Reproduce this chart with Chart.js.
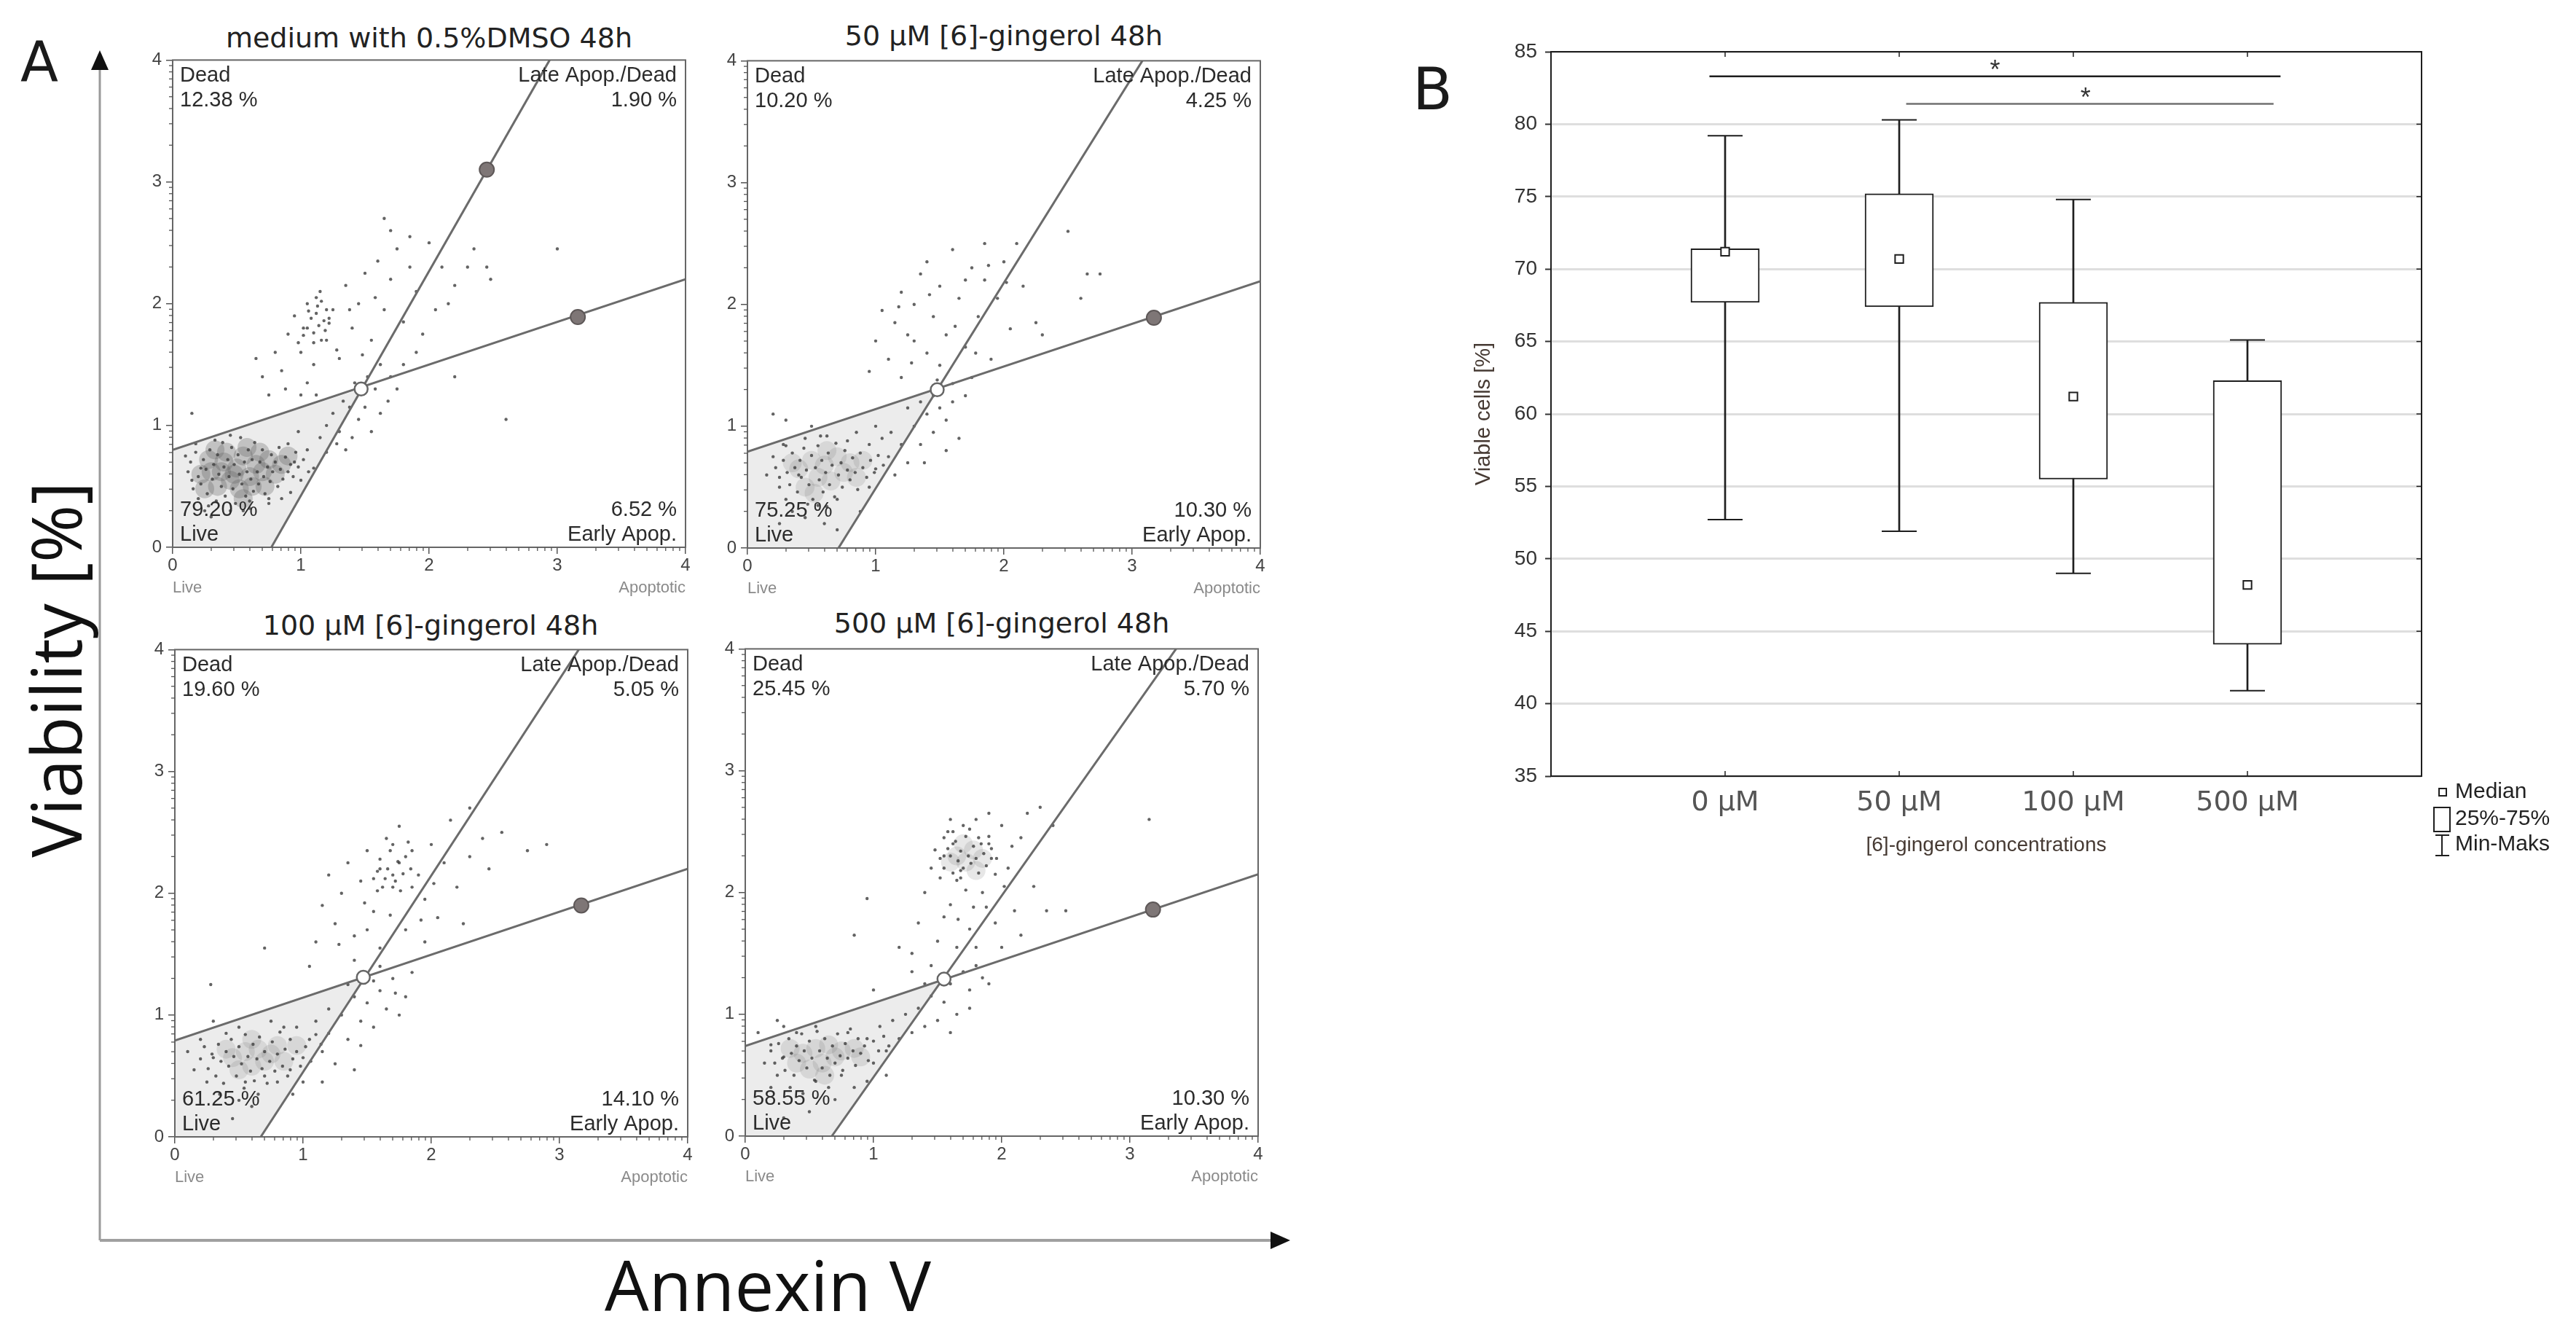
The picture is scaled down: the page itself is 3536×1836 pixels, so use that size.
<!DOCTYPE html>
<html>
<head>
<meta charset="utf-8">
<script src="https://cdn.jsdelivr.net/npm/chart.js@4.4.1/dist/chart.umd.min.js"></script>
<style>
html, body { margin: 0; padding: 0; background: #fff; }
#page { position: relative; width: 3536px; height: 1836px; overflow: hidden; background: #fff; }
canvas { position: absolute; }
.txt { position: absolute; white-space: nowrap; color: #1a1a1a; }
.ptitle { font-family: "DejaVu Sans"; font-size: 38px; line-height: 38px; color: #222; transform: translateX(-50%); }
.big { font-family: "Open Sans"; font-size: 96px; line-height: 96px; color: #111; }
</style>
</head>
<body>
<div id="page">
  <svg style="position:absolute;left:0;top:0" width="3536" height="1836">
    <line x1="137" y1="1702" x2="137" y2="90" stroke="#9a9a9a" stroke-width="3"/>
    <polygon points="137,69 125,96 149,96" fill="#111"/>
    <line x1="137" y1="1702" x2="1748" y2="1702" stroke="#a0a0a0" stroke-width="4"/>
    <polygon points="1771,1702 1744,1690 1744,1714" fill="#111"/>
  </svg>
  <div class="txt" style="left:28px;top:47px;font-family:'DejaVu Sans';font-size:76px;line-height:76px">A</div>
  <div class="txt" style="left:1939px;top:83px;font-family:'DejaVu Sans';font-size:80px;line-height:80px">B</div>
  <div class="txt big" style="left:830px;top:1714px">Annexin V</div>
  <div class="txt big" style="left:75px;top:919px;transform:translate(-50%,-50%) rotate(-90deg)">Viability [%]</div>
  <div class="txt ptitle" style="left:589px;top:33px">medium with 0.5%DMSO 48h</div>
  <div class="txt ptitle" style="left:1378px;top:30px">50 µM [6]-gingerol 48h</div>
  <div class="txt ptitle" style="left:591px;top:839px">100 µM [6]-gingerol 48h</div>
  <div class="txt ptitle" style="left:1375px;top:836px">500 µM [6]-gingerol 48h</div>
  <canvas id="p1" width="774" height="764" style="left:187px;top:62px"></canvas>
  <canvas id="p2" width="774" height="764" style="left:976px;top:63px"></canvas>
  <canvas id="p3" width="774" height="764" style="left:190px;top:871px"></canvas>
  <canvas id="p4" width="774" height="764" style="left:973px;top:870px"></canvas>
  <canvas id="box" width="1526" height="1190" style="left:2010px;top:0px"></canvas>
</div>
<script>
// ---------- panel A: annexin V / viability dot plots ----------
const panelNames = ['DMSO', '50', '100', '500'];
const deadPct = ['12.38 %', '10.20 %', '19.60 %', '25.45 %'];
const latePct = ['1.90 %', '4.25 %', '5.05 %', '5.70 %'];
const livePct = ['79.20 %', '75.25 %', '61.25 %', '58.55 %'];
const earlyPct = ['6.52 %', '10.30 %', '14.10 %', '10.30 %'];

// gate lines: [start, end]
const steepGate = [[[0.77, 0], [2.94, 4]], [[0.71, 0], [3.08, 4]], [[0.67, 0], [3.15, 4]], [[0.675, 0], [3.36, 4]]];
const shallowGate = [[[0, 0.80], [4, 2.20]], [[0, 0.79], [4, 2.19]], [[0, 0.79], [4, 2.20]], [[0, 0.74], [4, 2.15]]];
const gateCross = [[1.47, 1.30], [1.48, 1.30], [1.47, 1.31], [1.55, 1.29]];
const gateHandles = [[[2.45, 3.10], [3.16, 1.89]], [[3.17, 1.89]], [[3.17, 1.90]], [[3.18, 1.86]]];

// dense parts of the clouds (drawn as soft grey haze)
const denseDmso = [[0.30,0.62],[0.40,0.70],[0.45,0.55],[0.50,0.65],[0.55,0.75],[0.60,0.58],[0.65,0.68],[0.70,0.62],
  [0.35,0.50],[0.42,0.78],[0.52,0.48],[0.58,0.82],[0.75,0.72],[0.80,0.60],[0.28,0.72],[0.48,0.60],[0.62,0.50],
  [0.38,0.62],[0.68,0.78],[0.85,0.68],[0.22,0.60],[0.90,0.75],[0.25,0.48],[0.33,0.80],[0.55,0.40],[0.72,0.50]];
const dense50 = [[0.40,0.65],[0.50,0.72],[0.55,0.58],[0.60,0.68],[0.65,0.55],[0.70,0.75],[0.75,0.62],[0.45,0.50],
  [0.35,0.70],[0.80,0.70],[0.62,0.80],[0.52,0.45],[0.85,0.58],[0.90,0.72]];
const dense100 = [[0.45,0.65],[0.55,0.70],[0.60,0.58],[0.65,0.72],[0.70,0.62],[0.50,0.55],[0.75,0.68],[0.80,0.75],
  [0.40,0.72],[0.85,0.62],[0.95,0.75],[0.60,0.80]];
const dense500 = [[0.45,0.68],[0.55,0.72],[0.60,0.60],[0.65,0.75],[0.70,0.65],[0.50,0.55],[0.75,0.70],[0.40,0.60],
  [0.85,0.72],[0.90,0.65],[0.35,0.72],[0.62,0.50],[1.65,2.30],[1.72,2.25],[1.78,2.35],[1.70,2.40],[1.85,2.28],
  [1.60,2.25],[1.80,2.18]];

// single events
const eventsDmso = [[0.10,0.75],[0.15,0.55],[0.18,0.85],[0.20,0.40],[0.22,0.65],[0.25,0.30],[0.90,0.85],[0.95,0.70],
  [1.00,0.55],[1.05,0.80],[1.10,0.65],[0.92,0.45],[0.85,0.40],[0.30,0.25],[0.45,0.30],[0.60,0.32],[0.75,0.40],
  [0.98,0.95],[1.15,0.90],[1.20,1.00],[1.30,0.95],[1.35,0.80],[1.40,0.90],[1.45,1.05],[1.50,1.15],[1.55,0.95],
  [1.62,1.10],[1.68,1.20],[1.25,1.10],[1.33,1.20],[1.42,1.35],[1.58,1.30],[1.70,1.40],[1.75,1.30],[1.80,1.50],
  [1.38,1.15],[1.28,0.85],[1.20,0.78],[2.60,1.05],[0.80,1.60],[0.85,1.45],[0.90,1.75],[0.95,1.90],[1.00,1.60],
  [1.05,2.00],[1.10,1.50],[1.15,2.10],[1.20,1.70],[1.25,1.95],[1.30,1.55],[1.35,2.15],[1.40,1.80],[1.45,2.00],
  [1.50,2.25],[1.55,1.70],[1.60,2.35],[1.65,1.95],[1.70,2.20],[1.75,2.45],[1.80,1.85],[1.85,2.30],[1.90,2.10],
  [1.95,1.75],[2.00,2.50],[2.05,1.95],[2.10,2.30],[2.20,2.15],[2.30,2.30],[2.45,2.30],[2.48,2.20],[1.65,2.70],
  [1.85,2.55],[1.70,2.60],[1.00,1.25],[0.70,1.40],[0.65,1.55],[0.75,1.25],[1.05,1.35],[3.00,2.45],[0.15,1.10],
  [2.20,1.40],[1.02,1.80],[1.22,1.88],[1.12,2.05],[0.98,1.68],[1.28,1.62],[1.48,1.58],[1.62,1.50],[1.90,1.60],
  [2.15,2.00],[1.58,2.05],[1.38,1.95],[0.88,1.30],[1.12,1.25],[1.52,1.40],[2.35,2.45],
  [0.12,0.62],[0.14,0.70],[0.16,0.48],[0.18,0.78],[0.20,0.58],[0.22,0.52],[0.24,0.72],[0.26,0.64],[0.27,0.44],
  [0.29,0.80],[0.31,0.56],[0.32,0.68],[0.34,0.38],[0.35,0.76],[0.36,0.60],[0.38,0.50],[0.39,0.86],[0.40,0.66],
  [0.41,0.42],[0.43,0.72],[0.44,0.58],[0.46,0.82],[0.47,0.48],[0.48,0.68],[0.49,0.36],[0.51,0.76],[0.52,0.60],
  [0.53,0.90],[0.54,0.52],[0.56,0.70],[0.57,0.42],[0.58,0.62],[0.59,0.80],[0.61,0.56],[0.62,0.72],[0.63,0.46],
  [0.64,0.86],[0.66,0.62],[0.67,0.52],[0.68,0.70],[0.70,0.80],[0.71,0.58],[0.72,0.44],[0.74,0.66],[0.76,0.54],
  [0.77,0.76],[0.78,0.62],[0.80,0.70],[0.82,0.50],[0.83,0.82],[0.84,0.64],[0.86,0.56],[0.88,0.74],[0.90,0.62],
  [0.92,0.68],[0.94,0.58],[0.96,0.78],[0.98,0.66],[1.02,0.72],[1.06,0.62],[0.33,0.88],[0.45,0.92],[0.60,0.38],
  [0.75,0.36],[0.28,0.34],[0.55,0.30],
  [1.05,1.80],[1.08,1.88],[1.10,1.76],[1.12,1.92],[1.14,1.82],[1.16,1.70],[1.18,1.86],[1.20,1.95],[1.10,1.68],
  [1.13,1.98],[1.06,1.94],[1.19,1.78],[1.22,1.84],[1.02,1.74],[1.16,2.02]];
const events50 = [[0.15,0.60],[0.20,0.75],[0.25,0.50],[0.28,0.85],[0.30,0.40],[0.35,0.30],[0.45,0.25],[0.55,0.35],
  [0.60,0.20],[0.70,0.40],[0.95,0.85],[1.00,0.65],[1.05,0.90],[1.10,0.75],[1.15,0.60],[1.20,0.85],[1.25,0.70],
  [0.95,0.50],[1.00,1.00],[0.85,0.95],[0.45,0.90],[0.30,1.05],[0.50,1.00],[0.20,1.10],[1.30,1.00],[1.35,0.85],
  [1.40,1.10],[1.45,0.95],[1.50,1.15],[1.55,1.05],[1.60,1.20],[1.65,0.90],[1.70,1.25],[1.60,1.35],[1.45,1.25],
  [1.75,1.40],[1.35,1.20],[1.25,1.15],[1.55,0.80],[1.00,1.70],[1.05,1.95],[1.10,1.55],[1.15,1.85],[1.20,2.10],
  [1.25,1.75],[1.30,2.00],[1.35,2.25],[1.40,1.60],[1.45,1.90],[1.50,2.15],[1.55,1.75],[1.60,2.45],[1.65,2.05],
  [1.70,1.65],[1.75,2.30],[1.80,1.90],[1.85,2.20],[1.90,1.55],[1.95,2.05],[2.00,2.35],[2.05,1.80],[2.10,2.50],
  [2.15,2.15],[2.25,1.85],[1.85,2.50],[1.40,2.35],[1.20,1.40],[0.95,1.45],[2.30,1.75],[2.50,2.60],[2.65,2.25],
  [2.75,2.25],[2.60,2.05],[1.70,2.20],[1.50,1.50],[1.30,1.70],[1.18,1.98],[1.62,1.82],[1.88,2.32],[1.42,2.08],
  [1.78,1.60],[2.02,2.18],[1.28,1.52],[0.40,0.60],[0.62,0.92],[0.78,0.88],[0.88,0.30],[0.25,0.20],[0.70,0.15],
  [1.12,0.95],[1.38,0.70],[1.48,1.38],
  [0.22,0.66],[0.25,0.58],[0.28,0.72],[0.31,0.62],[0.33,0.52],[0.35,0.78],[0.37,0.66],[0.39,0.46],[0.41,0.72],
  [0.42,0.58],[0.44,0.82],[0.46,0.64],[0.48,0.52],[0.50,0.76],[0.51,0.40],[0.53,0.66],[0.55,0.84],[0.56,0.56],
  [0.58,0.72],[0.59,0.46],[0.61,0.62],[0.63,0.78],[0.64,0.52],[0.66,0.68],[0.68,0.42],[0.69,0.86],[0.71,0.60],
  [0.73,0.70],[0.74,0.50],[0.76,0.80],[0.78,0.64],[0.80,0.56],[0.82,0.74],[0.84,0.62],[0.86,0.48],[0.88,0.78],
  [0.90,0.66],[0.93,0.58],[0.96,0.72],[0.99,0.62],[1.02,0.76],[1.06,0.68],[0.47,0.36],[0.62,0.34],[0.30,0.84],
  [0.57,0.92]];
const events100 = [[0.10,0.70],[0.15,0.55],[0.20,0.80],[0.25,0.45],[0.30,0.65],[0.35,0.35],[0.40,0.85],[0.50,0.30],
  [0.55,0.45],[0.65,0.35],[0.70,0.50],[0.80,0.45],[0.90,0.55],[0.95,0.90],[1.00,0.65],[1.05,0.80],[1.10,0.95],
  [1.15,0.70],[1.20,0.85],[1.25,0.60],[1.00,0.45],[0.85,0.90],[0.30,0.95],[0.50,0.90],[0.75,0.95],[0.28,1.25],
  [1.30,1.00],[1.35,0.80],[1.40,1.15],[1.45,0.95],[1.50,1.10],[1.55,0.90],[1.60,1.20],[1.65,1.05],[1.70,1.30],
  [1.75,1.00],[1.80,1.15],[1.45,0.75],[1.35,1.25],[1.85,1.35],[1.60,1.40],[1.20,1.05],[1.10,1.60],[1.15,1.90],
  [1.20,2.15],[1.25,1.75],[1.30,2.00],[1.35,2.25],[1.40,1.65],[1.45,2.10],[1.50,2.35],[1.55,1.85],[1.60,2.20],
  [1.65,2.45],[1.70,2.05],[1.75,2.25],[1.80,1.70],[1.85,2.35],[1.90,2.15],[1.95,1.95],[2.00,2.40],[2.05,1.80],
  [2.10,2.25],[2.15,2.60],[2.20,2.05],[2.25,1.75],[2.30,2.30],[2.40,2.45],[2.45,2.20],[1.75,2.55],[1.60,1.55],
  [1.95,1.60],[1.40,1.45],[1.05,1.40],[0.70,1.55],[2.30,2.70],[2.90,2.40],[2.75,2.35],[2.55,2.50],[1.50,1.70],
  [1.70,2.15],[1.85,2.05],[1.58,2.02],[1.82,2.42],[1.48,1.92],[1.68,1.82],[2.02,2.08],[1.28,1.58],[1.92,1.78],
  [0.60,0.25],[0.45,0.15],[0.92,0.35],[1.15,0.45],[1.40,0.55],[1.55,1.28],[1.72,1.18],
  [0.20,0.64],[0.23,0.74],[0.26,0.56],[0.29,0.68],[0.32,0.50],[0.34,0.76],[0.36,0.62],[0.38,0.44],[0.40,0.70],
  [0.42,0.58],[0.44,0.80],[0.46,0.66],[0.48,0.50],[0.50,0.74],[0.52,0.60],[0.54,0.40],[0.55,0.84],[0.57,0.66],
  [0.59,0.54],[0.61,0.76],[0.62,0.46],[0.64,0.64],[0.66,0.82],[0.68,0.56],[0.70,0.70],[0.72,0.44],[0.74,0.62],
  [0.76,0.78],[0.78,0.54],[0.80,0.68],[0.82,0.86],[0.84,0.58],[0.86,0.72],[0.88,0.50],[0.90,0.80],[0.92,0.64],
  [0.95,0.70],[0.98,0.58],[1.02,0.74],[1.06,0.62],[1.10,0.84],[1.14,0.76],
  [1.55,2.12],[1.60,2.28],[1.62,2.05],[1.66,2.20],[1.68,2.35],[1.72,2.10],[1.74,2.26],[1.78,2.16],[1.80,2.30],
  [1.84,2.20],[1.58,2.18],[1.70,2.40],[1.76,2.02],[1.64,2.12]];
const events500 = [[0.10,0.85],[0.15,0.60],[0.20,0.75],[0.25,0.50],[0.30,0.65],[0.35,0.40],[0.40,0.85],[0.45,0.35],
  [0.55,0.45],[0.65,0.40],[0.75,0.50],[0.80,0.85],[0.95,0.80],[1.00,0.60],[1.05,0.90],[1.10,0.70],[1.15,0.95],
  [1.20,0.80],[1.25,1.00],[1.30,0.85],[0.95,0.45],[0.85,0.40],[0.25,0.95],[0.20,0.40],[0.55,0.90],[0.30,0.15],
  [1.35,1.05],[1.40,0.90],[1.45,1.15],[1.50,0.95],[1.55,1.10],[1.60,1.25],[1.65,1.00],[1.70,1.35],[1.75,1.20],
  [1.80,1.40],[1.85,1.30],[1.60,0.85],[1.75,1.05],[1.90,1.25],[1.40,1.25],[1.30,1.50],[1.35,1.75],[1.40,2.00],
  [1.45,2.20],[1.50,1.60],[1.55,2.45],[1.60,1.90],[1.65,2.10],[1.70,2.55],[1.75,1.70],[1.80,2.60],[1.85,2.00],
  [1.90,2.40],[1.95,1.75],[2.00,2.55],[2.05,2.20],[2.10,1.85],[2.15,2.45],[2.20,2.65],[2.25,2.05],[2.30,2.70],
  [2.40,2.55],[1.55,2.30],[1.60,2.60],[1.90,2.65],[1.95,2.15],[1.45,1.40],[1.30,1.35],[1.00,1.20],[1.20,1.55],
  [0.95,1.95],[0.85,1.65],[2.50,1.85],[2.35,1.85],[3.15,2.60],[2.00,1.55],[1.80,1.55],[2.15,1.65],[1.65,1.55],
  [1.55,1.80],[1.52,2.12],[1.62,2.40],[1.68,2.18],[1.82,2.45],[1.92,2.28],[1.58,2.50],[1.72,2.02],[2.08,2.38],
  [1.48,2.35],[1.88,1.88],[2.02,2.05],[1.66,1.78],[1.78,1.88],[0.70,0.30],[0.50,0.20],[1.10,0.50],[0.30,0.90],
  [0.20,0.70],[0.23,0.60],[0.26,0.76],[0.29,0.64],[0.31,0.54],[0.34,0.80],[0.36,0.68],[0.38,0.50],[0.40,0.74],
  [0.42,0.62],[0.44,0.84],[0.46,0.70],[0.48,0.56],[0.50,0.78],[0.52,0.64],[0.54,0.46],[0.56,0.86],[0.58,0.70],
  [0.60,0.56],[0.62,0.80],[0.64,0.64],[0.66,0.50],[0.68,0.74],[0.70,0.60],[0.72,0.84],[0.74,0.66],[0.76,0.54],
  [0.78,0.76],[0.80,0.64],[0.82,0.88],[0.84,0.70],[0.86,0.58],[0.88,0.80],[0.90,0.68],[0.93,0.74],[0.96,0.62],
  [1.00,0.78],[1.04,0.70],[1.08,0.82],[1.12,0.74],
  [1.52,2.28],[1.55,2.20],[1.58,2.36],[1.60,2.30],[1.62,2.16],[1.64,2.42],[1.66,2.26],[1.68,2.34],[1.70,2.20],
  [1.72,2.46],[1.74,2.30],[1.76,2.24],[1.78,2.38],[1.80,2.28],[1.82,2.16],[1.84,2.40],[1.86,2.32],[1.88,2.22],
  [1.92,2.36],[1.96,2.28],[1.62,2.50],[1.90,2.46],[1.68,2.12],[1.75,2.52]];

const denseSets = [denseDmso, dense50, dense100, dense500];
const eventSets = [eventsDmso, events50, events100, events500];
const denseAlpha = [0.3, 0.14, 0.14, 0.15];

const toXY = arr => arr.map(p => ({ x: p[0], y: p[1] }));

const flowDecor = {
  id: 'flowDecor',
  beforeDatasetsDraw(chart, args, opts) {
    const { ctx, scales: { x, y } } = chart;
    ctx.save();
    ctx.beginPath();
    opts.shade.forEach((p, i) => {
      const px = x.getPixelForValue(p[0]), py = y.getPixelForValue(p[1]);
      if (i === 0) ctx.moveTo(px, py); else ctx.lineTo(px, py);
    });
    ctx.closePath();
    ctx.fillStyle = '#ececec';
    ctx.fill();
    ctx.restore();
  },
  afterDraw(chart, args, opts) {
    const { ctx, chartArea: a, scales: { x, y } } = chart;
    ctx.save();
    ctx.strokeStyle = '#666';
    ctx.lineWidth = 2;
    ctx.strokeRect(a.left, a.top, a.right - a.left, a.bottom - a.top);
    // log-like minor ticks
    ctx.lineWidth = 1.3;
    ctx.strokeStyle = '#555';
    for (let d = 0; d < 4; d++) {
      for (let k = 2; k <= 9; k++) {
        const v = d + Math.log10(k);
        const px = x.getPixelForValue(v);
        ctx.beginPath(); ctx.moveTo(px, a.bottom); ctx.lineTo(px, a.bottom + 5); ctx.stroke();
        const py = y.getPixelForValue(v);
        ctx.beginPath(); ctx.moveTo(a.left, py); ctx.lineTo(a.left - 5, py); ctx.stroke();
      }
    }
    ctx.font = '29px "Liberation Sans"';
    ctx.fillStyle = '#2b2b2b';
    ctx.textAlign = 'left';
    ctx.fillText('Dead', a.left + 10, a.top + 30);
    ctx.fillText(opts.dead, a.left + 10, a.top + 64);
    ctx.fillText(opts.live, a.left + 10, a.bottom - 43);
    ctx.fillText('Live', a.left + 10, a.bottom - 9);
    ctx.textAlign = 'right';
    ctx.fillText('Late Apop./Dead', a.right - 12, a.top + 30);
    ctx.fillText(opts.late, a.right - 12, a.top + 64);
    ctx.fillText(opts.early, a.right - 12, a.bottom - 43);
    ctx.fillText('Early Apop.', a.right - 12, a.bottom - 9);
    ctx.font = '22px "Liberation Sans"';
    ctx.fillStyle = '#8a8a8a';
    ctx.textAlign = 'left';
    ctx.fillText('Live', a.left, a.bottom + 62);
    ctx.textAlign = 'right';
    ctx.fillText('Apoptotic', a.right, a.bottom + 62);
    ctx.restore();
  }
};

Chart.defaults.font.family = '"Liberation Sans", Arial, sans-serif';
Chart.defaults.animation = false;

panelNames.forEach((name, i) => {
  const shade = [[0, 0], shallowGate[i][0], gateCross[i], steepGate[i][0]];
  new Chart(document.getElementById('p' + (i + 1)), {
    type: 'scatter',
    data: {
      datasets: [
        {
          label: 'dense',
          data: toXY(denseSets[i]),
          pointRadius: 13,
          backgroundColor: 'rgba(95, 95, 95, ' + denseAlpha[i] + ')',
          borderWidth: 0,
          order: 6
        },
        {
          label: 'events',
          data: toXY(eventSets[i]),
          pointRadius: 2.2,
          backgroundColor: 'rgba(60, 60, 60, 0.8)',
          borderWidth: 0,
          order: 5
        },
        {
          label: 'gate steep',
          data: toXY(steepGate[i]),
          showLine: true,
          pointRadius: 0,
          borderColor: '#6b6b6b',
          borderWidth: 3,
          order: 3
        },
        {
          label: 'gate shallow',
          data: toXY(shallowGate[i]),
          showLine: true,
          pointRadius: 0,
          borderColor: '#6b6b6b',
          borderWidth: 3,
          order: 3
        },
        {
          label: 'handles',
          data: toXY(gateHandles[i]),
          pointRadius: 10,
          backgroundColor: '#7e7676',
          borderColor: '#5e5858',
          borderWidth: 2,
          order: 1
        },
        {
          label: 'cross',
          data: toXY([gateCross[i]]),
          pointRadius: 9,
          backgroundColor: '#ffffff',
          borderColor: '#666',
          borderWidth: 2.5,
          order: 1
        }
      ]
    },
    options: {
      responsive: false,
      devicePixelRatio: 1,
      layout: { padding: { top: 16, right: 20, left: 0, bottom: 0 } },
      plugins: {
        legend: { display: false },
        tooltip: { enabled: false },
        flowDecor: { shade: shade, dead: deadPct[i], late: latePct[i], live: livePct[i], early: earlyPct[i] }
      },
      scales: {
        x: {
          type: 'linear', min: 0, max: 4,
          ticks: { stepSize: 1, color: '#444', font: { size: 24 }, padding: 2, maxRotation: 0 },
          grid: { drawOnChartArea: false, drawTicks: true, tickLength: 9, color: '#555', lineWidth: 1.5 },
          border: { display: false },
          afterFit: s => { s.height = 75; }
        },
        y: {
          type: 'linear', min: 0, max: 4,
          ticks: { stepSize: 1, color: '#444', font: { size: 24 }, padding: 6 },
          grid: { drawOnChartArea: false, drawTicks: true, tickLength: 9, color: '#555', lineWidth: 1.5 },
          border: { display: false },
          afterFit: s => { s.width = 50; }
        }
      }
    },
    plugins: [flowDecor]
  });
});

// ---------- panel B: viable cells box plot ----------
const concLabels = ['0 µM', '50 µM', '100 µM', '500 µM'];
const viableMin = [52.7, 51.9, 49.0, 40.9];
const viableQ1 = [67.7, 67.4, 55.5, 44.1];
const viableMedian = [71.2, 70.7, 61.2, 48.2];
const viableQ3 = [71.4, 75.2, 67.7, 62.3];
const viableMax = [79.2, 80.3, 74.8, 65.1];
// significance bars: [from, to, level]; stars: [x, level]
const sigLines = [[0.91, 4.19, 83.3], [2.04, 4.15, 81.4]];
const sigStars = [[2.55, 84.2], [3.07, 82.3]];
const sigColors = ['#1e1e1e', '#707070'];

const boxDecor = {
  id: 'boxDecor',
  afterDraw(chart) {
    const { ctx, chartArea: a, scales: { x, y } } = chart;
    ctx.save();
    ctx.strokeStyle = '#1e1e1e';
    ctx.lineWidth = 2;
    ctx.strokeRect(a.left, a.top, a.right - a.left, a.bottom - a.top);
    ctx.lineWidth = 1.5;
    y.ticks.forEach(t => {
      const py = y.getPixelForValue(t.value);
      ctx.beginPath(); ctx.moveTo(a.right, py); ctx.lineTo(a.right - 7, py); ctx.stroke();
    });
    x.ticks.forEach(t => {
      const px = x.getPixelForValue(t.value);
      ctx.beginPath(); ctx.moveTo(px, a.top); ctx.lineTo(px, a.top + 7); ctx.stroke();
      ctx.beginPath(); ctx.moveTo(px, a.bottom); ctx.lineTo(px, a.bottom - 7); ctx.stroke();
    });
    // asterisks
    ctx.font = '36px "Liberation Sans"';
    ctx.fillStyle = '#333';
    ctx.textAlign = 'center';
    ctx.textBaseline = 'alphabetic';
    sigStars.forEach(s => ctx.fillText('*', x.getPixelForValue(s[0]), y.getPixelForValue(s[1]) + 21));
    // legend
    const lx = a.right + 29, tx = a.right + 46, b = a.bottom;
    ctx.fillStyle = '#fff';
    ctx.lineWidth = 2;
    ctx.fillRect(lx - 5, b + 17, 10, 10);
    ctx.strokeRect(lx - 5, b + 17, 10, 10);
    ctx.strokeRect(a.right + 17, b + 43, 22, 33);
    ctx.beginPath();
    ctx.moveTo(lx - 1, b + 81); ctx.lineTo(lx - 1, b + 109);
    ctx.moveTo(lx - 10, b + 81); ctx.lineTo(lx + 9, b + 81);
    ctx.moveTo(lx - 10, b + 109); ctx.lineTo(lx + 9, b + 109);
    ctx.stroke();
    ctx.font = '30px "Liberation Sans"';
    ctx.fillStyle = '#222';
    ctx.textAlign = 'left';
    ctx.textBaseline = 'middle';
    ctx.fillText('Median', tx, b + 22);
    ctx.fillText('25%-75%', tx, b + 59);
    ctx.fillText('Min-Maks', tx, b + 94);
    ctx.restore();
  }
};

const xsOf = () => concLabels.map((_, i) => i + 1);

new Chart(document.getElementById('box'), {
  type: 'bar',
  data: {
    datasets: [
      {
        type: 'scatter',
        label: 'Median',
        data: xsOf().map((v, i) => ({ x: v, y: viableMedian[i] })),
        pointStyle: 'rect',
        pointRadius: 8,
        backgroundColor: '#fff',
        borderColor: '#1e1e1e',
        borderWidth: 2,
        order: 1
      },
      {
        type: 'scatter',
        label: 'caps',
        data: xsOf().map((v, i) => ({ x: v, y: viableMin[i] }))
          .concat(xsOf().map((v, i) => ({ x: v, y: viableMax[i] }))),
        pointStyle: 'line',
        pointRadius: 24,
        borderColor: '#1e1e1e',
        borderWidth: 2,
        order: 1
      },
      {
        label: '25%-75%',
        data: xsOf().map((v, i) => ({ x: v, y: [viableQ1[i], viableQ3[i]] })),
        backgroundColor: '#fff',
        borderColor: '#1e1e1e',
        borderWidth: 2,
        borderSkipped: false,
        barThickness: 94,
        grouped: false,
        order: 2
      },
      {
        label: 'Min-Maks',
        data: xsOf().map((v, i) => ({ x: v, y: [viableMin[i], viableMax[i]] })),
        backgroundColor: '#1e1e1e',
        borderWidth: 0,
        barThickness: 2,
        grouped: false,
        order: 3
      },
      ...sigLines.map((s, k) => ({
        type: 'line',
        label: 'sig ' + k,
        data: [{ x: s[0], y: s[2] }, { x: s[1], y: s[2] }],
        borderColor: sigColors[k],
        borderWidth: 2.5,
        pointRadius: 0,
        order: 1
      }))
    ]
  },
  options: {
    responsive: false,
    devicePixelRatio: 1,
    layout: { padding: { top: 71, right: 212, left: 0, bottom: 0 } },
    plugins: { legend: { display: false }, tooltip: { enabled: false } },
    scales: {
      x: {
        type: 'linear', min: 0, max: 5, offset: false,
        afterBuildTicks: s => { s.ticks = xsOf().map(v => ({ value: v })); },
        ticks: {
          callback: v => concLabels[v - 1] || '',
          color: '#555', font: { family: 'DejaVu Sans', size: 38 }, padding: 14, maxRotation: 0
        },
        grid: { display: false, drawTicks: false },
        border: { display: false },
        title: {
          display: true, text: '[6]-gingerol concentrations', color: '#463a33',
          font: { size: 28 }, padding: { top: 0, bottom: 13 }
        },
        afterFit: s => { s.height = 125; }
      },
      y: {
        min: 35, max: 85,
        ticks: { stepSize: 5, color: '#333', font: { size: 28 }, padding: 11 },
        grid: { color: '#dedede', lineWidth: 3, tickColor: '#333', tickLength: 8, tickWidth: 2 },
        border: { display: false },
        title: {
          display: true, text: 'Viable cells [%]', color: '#463a33',
          font: { size: 29 }, padding: { top: 10, bottom: 0 }
        },
        afterFit: s => { s.width = 119; }
      }
    }
  },
  plugins: [boxDecor]
});
</script>
</body>
</html>
